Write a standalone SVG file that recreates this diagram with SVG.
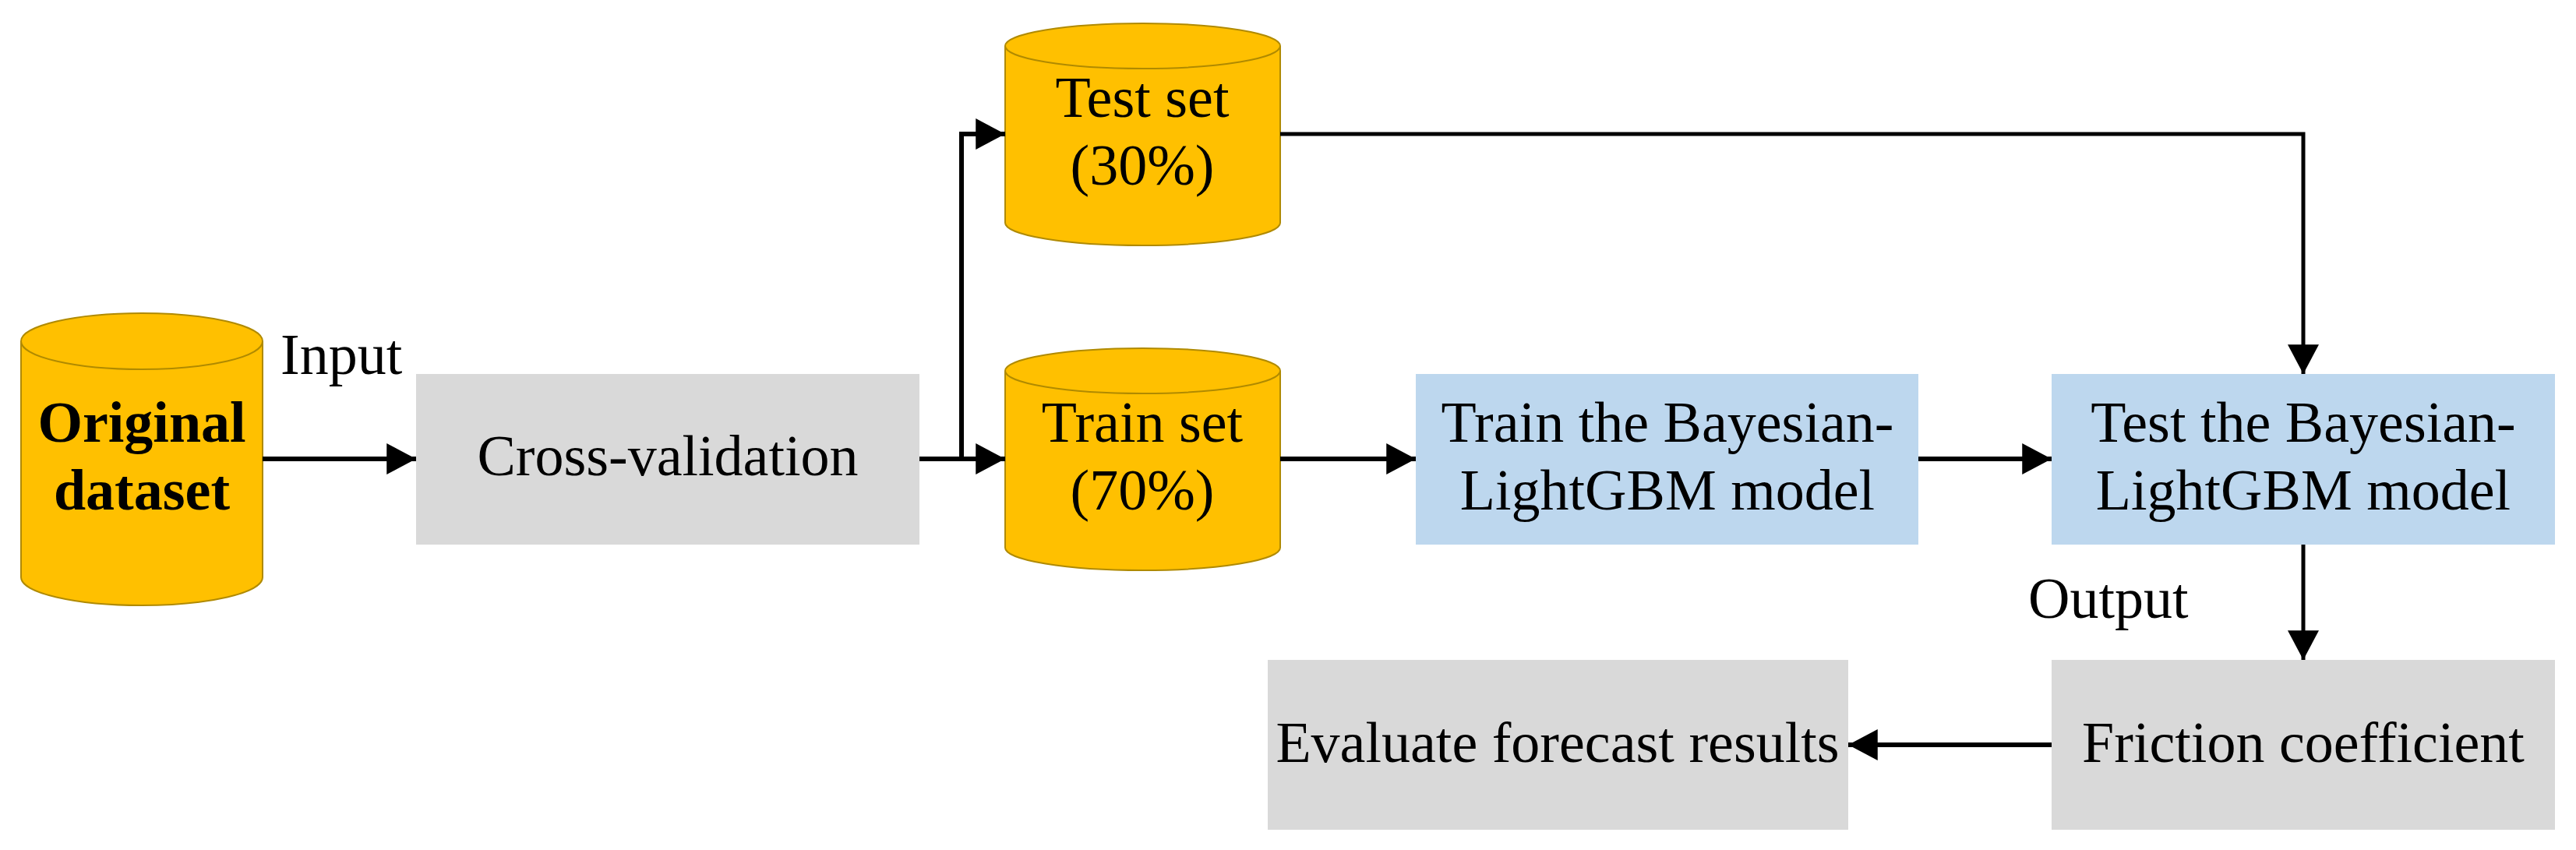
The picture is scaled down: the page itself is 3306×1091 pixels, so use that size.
<svg xmlns="http://www.w3.org/2000/svg" width="3306" height="1091" viewBox="0 0 3306 1091">
<style>
text{font-family:"Liberation Serif","Times New Roman",serif;font-size:74px;fill:#000;text-anchor:middle}
.cyl{fill:#FFC000;stroke:#B08A00;stroke-width:2}
.gray{fill:#D9D9D9}
.blue{fill:#BDD7EE}
.ln{fill:none;stroke:#000;stroke-width:6}
</style>
<defs>
<marker id="ah" markerUnits="userSpaceOnUse" markerWidth="40" markerHeight="40" viewBox="0 0 34 36" refX="34" refY="18" orient="auto">
<path d="M0,0 L34,18 L0,36 Z" fill="#000"/>
</marker>
</defs>
<g id="original">
<path class="cyl" d="M27,438 A155,36 0 0 1 337,438 L337,741 A155,36 0 0 1 27,741 Z"/>
<path class="cyl" d="M27,438 A155,36 0 0 0 337,438"/>
<text x="182" y="567" font-weight="bold">Original</text>
<text x="182" y="654" font-weight="bold">dataset</text>
</g>
<g id="cross"><rect class="gray" x="534" y="480" width="646" height="219"/><text x="857" y="610">Cross-validation</text></g>
<g id="testset">
<path class="cyl" d="M1290,59 A176,29 0 0 1 1643,59 L1643,286 A176,29 0 0 1 1290,286 Z"/>
<path class="cyl" d="M1290,59 A176,29 0 0 0 1643,59"/>
<text x="1466" y="150">Test set</text><text x="1466" y="237">(30%)</text>
</g>
<g id="trainset">
<path class="cyl" d="M1290,476 A176,29 0 0 1 1643,476 L1643,703 A176,29 0 0 1 1290,703 Z"/>
<path class="cyl" d="M1290,476 A176,29 0 0 0 1643,476"/>
<text x="1466" y="567">Train set</text><text x="1466" y="654">(70%)</text>
</g>
<g id="trainmodel"><rect class="blue" x="1817" y="480" width="645" height="219"/><text x="2140" y="567">Train the Bayesian-</text><text x="2140" y="654">LightGBM model</text></g>
<g id="testmodel"><rect class="blue" x="2633" y="480" width="646" height="219"/><text x="2956" y="567">Test the Bayesian-</text><text x="2956" y="654">LightGBM model</text></g>
<g id="friction"><rect class="gray" x="2633" y="847" width="646" height="218"/><text x="2956" y="978">Friction coefficient</text></g>
<g id="evaluate"><rect class="gray" x="1627" y="847" width="745" height="218"/><text x="1999" y="978">Evaluate forecast results</text></g>
<g id="labels">
<text x="360" y="480" style="text-anchor:start">Input</text>
<text x="2603" y="793" style="text-anchor:start">Output</text>
</g>
<g id="connectors">
<path class="ln" d="M337,589 L534,589" marker-end="url(#ah)"/>
<path class="ln" d="M1180,589 L1290,589" marker-end="url(#ah)"/>
<path class="ln" d="M1234,589 L1234,172 L1290,172" marker-end="url(#ah)"/>
<path class="ln" d="M1643,589 L1817,589" marker-end="url(#ah)"/>
<path class="ln" d="M2462,589 L2633,589" marker-end="url(#ah)"/>
<path class="ln" style="stroke-width:5" d="M1643,172 L2956,172 L2956,480" marker-end="url(#ah)"/>
<path class="ln" style="stroke-width:5" d="M2956,699 L2956,847" marker-end="url(#ah)"/>
<path class="ln" d="M2633,956 L2372,956" marker-end="url(#ah)"/>
</g>
</svg>
